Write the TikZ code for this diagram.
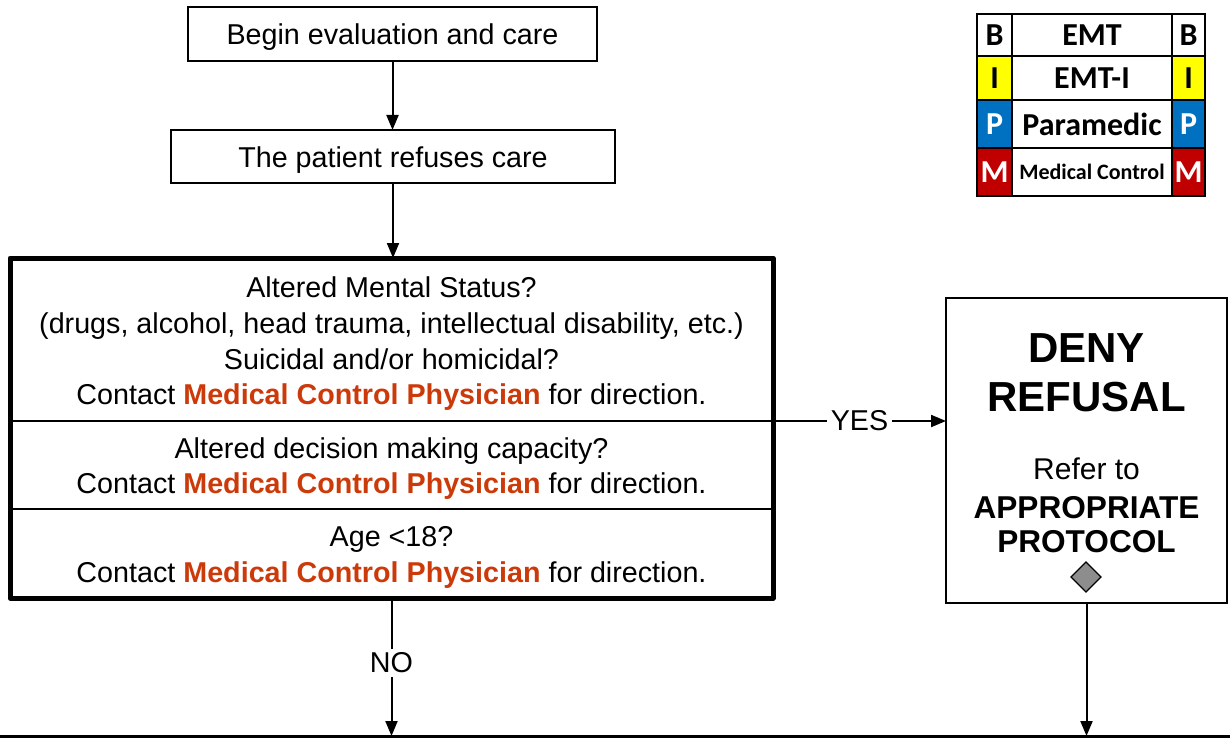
\documentclass[tikz,border=0pt]{standalone}
\usepackage{fontspec}
\setmainfont{Liberation Sans}
\newfontfamily\calib{Carlito}
\usetikzlibrary{arrows.meta,shapes.geometric}
\definecolor{mcred}{RGB}{204,58,10}
\definecolor{legyel}{RGB}{255,255,0}
\definecolor{legblue}{RGB}{0,112,192}
\definecolor{legred}{RGB}{192,0,0}
\begin{document}
\begin{tikzpicture}[x=1pt,y=-1pt,
 every node/.style={inner sep=0pt,outer sep=0pt},
 txt/.style={font=\fontsize{28.7}{35.7}\selectfont,align=center},
 stepbox/.style={draw,line width=2pt},
 secbox/.style={minimum width=763pt},
 arr/.style={line width=2pt,-{Triangle[length=15pt,width=12pt]}},
 leg/.style={draw,line width=1.5pt,font=\calib\bfseries\fontsize{32}{32}\selectfont},
 big/.style={font=\bfseries\fontsize{42}{49}\selectfont,align=center},
 mid/.style={font=\fontsize{30}{36}\selectfont,align=center},
 midb/.style={font=\bfseries\fontsize{31.6}{34}\selectfont,align=center}]
\useasboundingbox (0,0) rectangle (1230,738);

% top boxes
\node[stepbox,minimum width=409pt,minimum height=54pt] (b1) at (392.5,34) {};
\node[txt] (b1t) at (392.5,37.5) {Begin evaluation and care};
\node[stepbox,minimum width=444pt,minimum height=53pt] (b2) at (393,156.5) {};
\node[txt] (b2t) at (393,160) {The patient refuses care};

% question box sections
\newcommand{\mcp}{\textcolor{mcred}{\bfseries Medical Control Physician}}
\node[secbox,minimum height=163pt] (s1) at (391.5,339.5) {};
\node[txt] (s1t) at (391.5,344) {Altered Mental Status?\\(drugs, alcohol, head trauma, intellectual disability, etc.)\\Suicidal and/or homicidal?\\Contact \mcp{} for direction.};
\node[secbox,minimum height=88pt] (s2) at (391.5,465) {};
\node[txt] (s2t) at (391.5,468.5) {Altered decision making capacity?\\Contact \mcp{} for direction.};
\node[secbox,minimum height=89pt] (s3) at (391.5,553.5) {};
\node[txt] (s3t) at (391.5,557.5) {Age {<}18?\\Contact \mcp{} for direction.};
\draw[line width=1.5pt] (s1.south west) -- (s1.south east);
\draw[line width=1.5pt] (s2.south west) -- (s2.south east);
\draw[line width=5pt,line join=round] (s1.north west) rectangle (s3.south east);

% deny box
\node[draw,line width=2pt,minimum width=281pt,minimum height=305pt] (deny) at (1086.5,450.5) {};
\node[big] (dn1) at (1086.5,348) {DENY};
\node[big] (dn2) at (1086.5,397) {REFUSAL};
\node[mid] (dn3) at (1086.5,469) {Refer to};
\node[midb] (dn4) at (1086.5,508) {APPROPRIATE};
\node[midb] (dn5) at (1086.5,542) {PROTOCOL};
\node[diamond,draw,line width=1.2pt,fill=gray!95!black!85,minimum width=30pt,minimum height=30pt] (dia) at (1086,577) {};

% bottom line
\coordinate (bl) at (0,736);
\coordinate (br) at (1230,736);
\draw[line width=3pt] (bl) -- (br);

% connectors
\draw[arr] (b1.south) -- (b1.south |- b2.north);
\draw[arr] (b2.south) -- (b2.south |- s1.north);
\draw[arr] (s1.south east) -- node[txt,fill=white,inner xsep=4pt,inner ysep=2pt] (yes) {YES} (s1.south east -| deny.west);
\draw[arr] (s3.south) -- node[txt,fill=white,inner ysep=4pt,pos=0.47] (no) {NO} (s3.south |- bl);
\draw[arr] (deny.south) -- (deny.south |- bl);

% legend
\node[leg,minimum width=35pt,minimum height=42pt] (l11) at (994.5,35) {B};
\node[leg,minimum width=160pt,minimum height=42pt] (l12) at (1092,35) {EMT};
\node[leg,minimum width=33pt,minimum height=42pt] (l13) at (1188.5,35) {B};
\node[leg,fill=legyel,minimum width=35pt,minimum height=44pt] (l21) at (994.5,78) {I};
\node[leg,minimum width=160pt,minimum height=44pt] (l22) at (1092,78) {EMT-I};
\node[leg,fill=legyel,minimum width=33pt,minimum height=44pt] (l23) at (1188.5,78) {I};
\node[leg,fill=legblue,text=white,minimum width=35pt,minimum height=48pt] (l31) at (994.5,124) {P};
\node[leg,minimum width=160pt,minimum height=48pt] (l32) at (1092,124) {Paramedic};
\node[leg,fill=legblue,text=white,minimum width=33pt,minimum height=48pt] (l33) at (1188.5,124) {P};
\node[leg,fill=legred,text=white,minimum width=35pt,minimum height=48pt] (l41) at (994.5,172) {M};
\node[leg,minimum width=160pt,minimum height=48pt,font=\calib\bfseries\fontsize{22}{22}\selectfont] (l42) at (1092,172) {Medical Control};
\node[leg,fill=legred,text=white,minimum width=33pt,minimum height=48pt] (l43) at (1188.5,172) {M};
\end{tikzpicture}
\end{document}
